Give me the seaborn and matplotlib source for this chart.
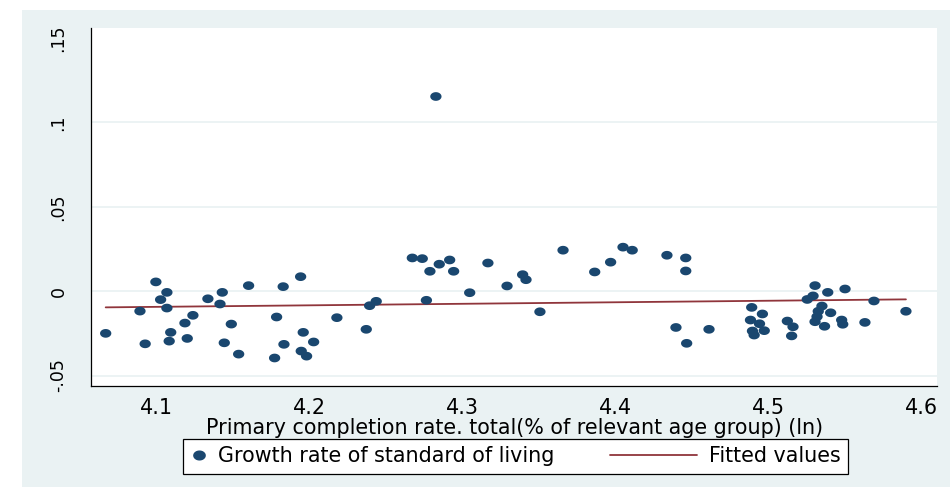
import numpy as np
import matplotlib
matplotlib.use("Agg")
import matplotlib.pyplot as plt
import seaborn as sns
from matplotlib.path import Path
from matplotlib.patches import Rectangle
from matplotlib.lines import Line2D
from matplotlib.legend_handler import HandlerBase

# Primary completion rate (ln) and growth rate of standard of living
completion_ln = [
    4.0667, 4.0891, 4.0925, 4.0995, 4.1026, 4.1067, 4.1067, 4.1092, 4.1082, 4.1185,
    4.1200, 4.1237, 4.1335, 4.1414, 4.1429, 4.1488, 4.1442, 4.1536, 4.1601,
    4.1827, 4.1941, 4.1784, 4.1958, 4.1832, 4.2026, 4.1945, 4.1980, 4.1771, 4.2178,
    4.2370, 4.2392, 4.2435, 4.2671, 4.2736, 4.2786, 4.2763,
    4.2847, 4.2915, 4.2941, 4.3046, 4.3165, 4.3290, 4.3392, 4.3414, 4.3505, 4.3656, 4.2825,
    4.3863, 4.3967, 4.4048, 4.4108, 4.4335, 4.4458, 4.4458, 4.4394, 4.4464, 4.4610,
    4.4889, 4.4959, 4.4881, 4.4940, 4.4894, 4.4905, 4.4971, 4.5122, 4.5159, 4.5150,
    4.5252, 4.5290, 4.5303, 4.5386, 4.5499, 4.5348, 4.5324, 4.5316, 4.5303, 4.5405,
    4.5365, 4.5477, 4.5484, 4.5629, 4.5688, 4.5897,
]
growth_rate = [
    -0.0250, -0.0118, -0.0312, 0.0055, -0.0050, -0.0007, -0.0100, -0.0244, -0.0296, -0.0189,
    -0.0280, -0.0143, -0.0045, -0.0076, -0.0007, -0.0195, -0.0306, -0.0373, 0.0033,
    0.0027, 0.0086, -0.0153, -0.0244, -0.0315, -0.0301, -0.0355, -0.0385, -0.0396, -0.0157,
    -0.0226, -0.0086, -0.0060, 0.0197, 0.0193, 0.0118, -0.0054,
    0.0160, 0.0185, 0.0118, -0.0009, 0.0167, 0.0031, 0.0098, 0.0068, -0.0122, 0.0243, 0.1154,
    0.0114, 0.0172, 0.0261, 0.0243, 0.0213, 0.0197, 0.0120, -0.0215, -0.0309, -0.0226,
    -0.0096, -0.0135, -0.0171, -0.0193, -0.0236, -0.0260, -0.0234, -0.0177, -0.0211, -0.0265,
    -0.0049, -0.0028, 0.0033, -0.0007, 0.0013, -0.0088, -0.0119, -0.0151, -0.0181, -0.0128,
    -0.0208, -0.0171, -0.0196, -0.0185, -0.0058, -0.0119,
]
x_ticks = [4.1, 4.2, 4.3, 4.4, 4.5, 4.6]
x_tick_labels = ["4.1", "4.2", "4.3", "4.4", "4.5", "4.6"]
y_ticks = [-0.05, 0.0, 0.05, 0.1, 0.15]
y_tick_labels = ["-.05", "0", ".05", ".1", ".15"]

NAVY = "#1A476F"
MAROON = "#90353B"
BG = "#EAF2F3"
FS = 14.9

sns.set_style("white")
plt.rcParams["font.family"] = ["DejaVu Sans"]
plt.rcParams.update({"text.color": "black", "axes.labelcolor": "black",
                     "xtick.color": "black", "ytick.color": "black"})

W, H = 950, 487
fig = plt.figure(figsize=(W / 100, H / 100), dpi=100, facecolor="white")
fig.patches.append(Rectangle((22 / W, 0), 1 - 22 / W, 1 - 10 / H,
                             transform=fig.transFigure, facecolor=BG,
                             edgecolor="none", zorder=-10))

ax = fig.add_axes([91 / W, 1 - 386 / H, (937.3 - 91) / W, (386 - 28) / H])
ax.set_facecolor("white")

# slightly wide oval marker
t = np.linspace(0, 2 * np.pi, 65)
oval = Path(np.column_stack([np.cos(t), 0.77 * np.sin(t)]))

sns.scatterplot(x=completion_ln, y=growth_rate, marker=oval, s=66,
                color=NAVY, edgecolor="none", linewidth=0, ax=ax, zorder=3)
sns.regplot(x=completion_ln, y=growth_rate, scatter=False, ci=None,
            truncate=True, color=MAROON, line_kws={"lw": 1.3, "zorder": 2}, ax=ax)

ax.set_xlim(4.0571, 4.6102)
ax.set_ylim(-0.0562, 0.156)
ax.set_xticks(x_ticks)
ax.set_xticklabels(x_tick_labels, fontsize=FS)
ax.set_yticks(y_ticks)
ax.set_yticklabels(y_tick_labels, fontsize=12.5, rotation=90, va="center")

ax.yaxis.grid(True, color=BG, lw=1.3)
ax.xaxis.grid(False)
for val, gl in zip(y_ticks, ax.get_ygridlines()):
    if val > 0.12:
        gl.set_visible(False)

for side in ("top", "right"):
    ax.spines[side].set_visible(False)
for side in ("left", "bottom"):
    ax.spines[side].set_color("black")
    ax.spines[side].set_linewidth(0.9)
ax.tick_params(axis="both", direction="out", length=6, width=0.9, color="black",
               labelcolor="black")
ax.tick_params(axis="x", pad=2.5)
ax.tick_params(axis="y", pad=11)

ax.set_xlabel("Primary completion rate. total(% of relevant age group) (ln)",
              fontsize=FS, labelpad=0, color="black")
ax.set_ylabel("")


class WideLineHandler(HandlerBase):
    def __init__(self, span, **kw):
        super().__init__(**kw)
        self.span = span

    def create_artists(self, legend, orig_handle, xdescent, ydescent,
                       width, height, fontsize, trans):
        y = height / 2 - ydescent
        x1 = width - xdescent
        x0 = x1 - self.span * fontsize
        line = Line2D([x0, x1], [y, y], color=orig_handle.get_color(),
                      lw=orig_handle.get_linewidth())
        line.set_transform(trans)
        return [line]


dot_handle = Line2D([], [], marker=oval, ms=8.1, color=NAVY, ls="none")
fit_handle = Line2D([], [], color=MAROON, lw=1.3)
leg = fig.legend([dot_handle, fit_handle],
                 ["Growth rate of standard of living", "Fitted values"],
                 handler_map={fit_handle: WideLineHandler(4.25)},
                 loc="center", bbox_to_anchor=(515.5 / W, 1 - 456.5 / H),
                 ncol=2, fontsize=FS, frameon=True, fancybox=False,
                 framealpha=1, edgecolor="black", facecolor="white",
                 handlelength=0.8, handletextpad=0.55, columnspacing=6.1,
                 borderpad=0.35, borderaxespad=0, labelcolor="black")
leg.get_frame().set_linewidth(0.9)

fig.savefig("out.png", dpi=100, facecolor=fig.get_facecolor())
